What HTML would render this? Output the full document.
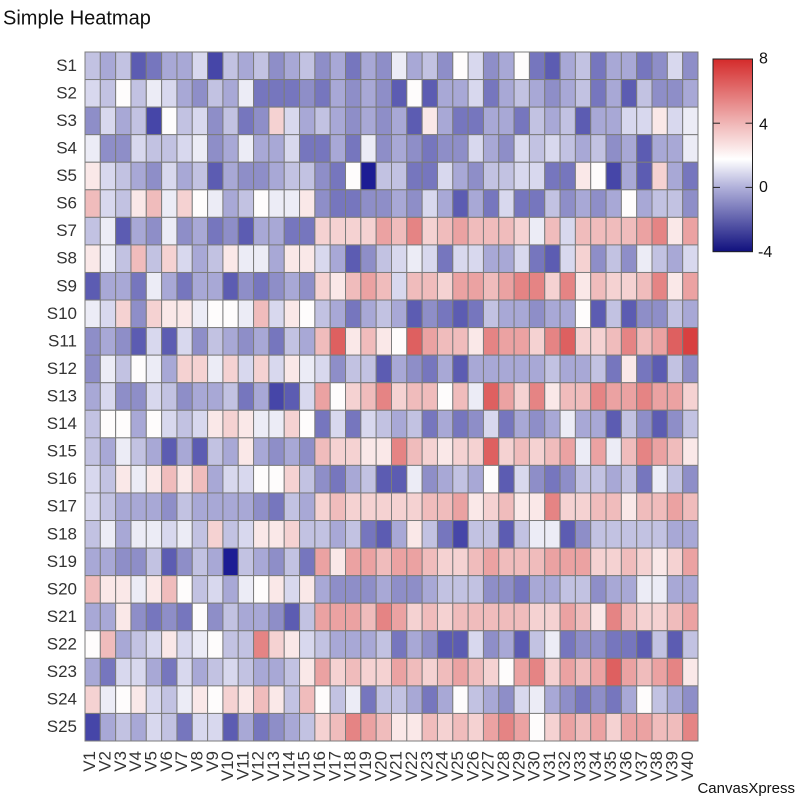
<!DOCTYPE html>
<html>
<head>
<meta charset="utf-8">
<style>
html,body{margin:0;padding:0;background:#fff;}
svg{display:block;}
text{font-family:"Liberation Sans",Arial,sans-serif;}
</style>
</head>
<body>
<svg id="chart" width="800" height="800" viewBox="0 0 800 800" xmlns="http://www.w3.org/2000/svg">
<defs>
<linearGradient id="lg" x1="0" y1="0" x2="0" y2="1">
<stop offset="0" stop-color="#d42b2b"/>
<stop offset="0.333" stop-color="#f0b6b6"/>
<stop offset="0.52" stop-color="#ffffff"/>
<stop offset="0.667" stop-color="#b0b0da"/>
<stop offset="1" stop-color="#10107e"/>
</linearGradient>
</defs>
<rect x="0" y="0" width="800" height="800" fill="#fff"/>
<text x="3" y="24.5" font-size="20" fill="#111">Simple Heatmap</text>
<g id="cells"></g>
<rect x="713" y="59" width="39.5" height="192.7" fill="url(#lg)" stroke="#222" stroke-width="1"/>
<g stroke="#222" stroke-width="1">
<line x1="713" y1="123.2" x2="720" y2="123.2"/>
<line x1="745.5" y1="123.2" x2="752.5" y2="123.2"/>
<line x1="713" y1="187.4" x2="720" y2="187.4"/>
<line x1="745.5" y1="187.4" x2="752.5" y2="187.4"/>
</g>
<g font-size="16" fill="#111">
<text x="759" y="63.5">8</text>
<text x="759" y="129.3">4</text>
<text x="759" y="192">0</text>
<text x="758" y="257">-4</text>
</g>
<g font-size="17" fill="#333" text-anchor="end">
<text x="77" y="70.8">S1</text>
<text x="77" y="98.3">S2</text>
<text x="77" y="125.9">S3</text>
<text x="77" y="153.5">S4</text>
<text x="77" y="181">S5</text>
<text x="77" y="208.6">S6</text>
<text x="77" y="236.1">S7</text>
<text x="77" y="263.7">S8</text>
<text x="77" y="291.3">S9</text>
<text x="77" y="318.8">S10</text>
<text x="77" y="346.4">S11</text>
<text x="77" y="373.9">S12</text>
<text x="77" y="401.5">S13</text>
<text x="77" y="429.1">S14</text>
<text x="77" y="456.6">S15</text>
<text x="77" y="484.2">S16</text>
<text x="77" y="511.7">S17</text>
<text x="77" y="539.3">S18</text>
<text x="77" y="566.9">S19</text>
<text x="77" y="594.4">S20</text>
<text x="77" y="622">S21</text>
<text x="77" y="649.5">S22</text>
<text x="77" y="677.1">S23</text>
<text x="77" y="704.7">S24</text>
<text x="77" y="732.2">S25</text>
</g>
<g font-size="17" fill="#333" text-anchor="end">
<text transform="translate(95.16,751) rotate(-90)">V1</text>
<text transform="translate(110.49,751) rotate(-90)">V2</text>
<text transform="translate(125.81,751) rotate(-90)">V3</text>
<text transform="translate(141.14,751) rotate(-90)">V4</text>
<text transform="translate(156.46,751) rotate(-90)">V5</text>
<text transform="translate(171.79,751) rotate(-90)">V6</text>
<text transform="translate(187.12,751) rotate(-90)">V7</text>
<text transform="translate(202.44,751) rotate(-90)">V8</text>
<text transform="translate(217.77,751) rotate(-90)">V9</text>
<text transform="translate(233.09,751) rotate(-90)">V10</text>
<text transform="translate(248.42,751) rotate(-90)">V11</text>
<text transform="translate(263.74,751) rotate(-90)">V12</text>
<text transform="translate(279.07,751) rotate(-90)">V13</text>
<text transform="translate(294.39,751) rotate(-90)">V14</text>
<text transform="translate(309.72,751) rotate(-90)">V15</text>
<text transform="translate(325.04,751) rotate(-90)">V16</text>
<text transform="translate(340.37,751) rotate(-90)">V17</text>
<text transform="translate(355.69,751) rotate(-90)">V18</text>
<text transform="translate(371.02,751) rotate(-90)">V19</text>
<text transform="translate(386.34,751) rotate(-90)">V20</text>
<text transform="translate(401.67,751) rotate(-90)">V21</text>
<text transform="translate(416.99,751) rotate(-90)">V22</text>
<text transform="translate(432.32,751) rotate(-90)">V23</text>
<text transform="translate(447.64,751) rotate(-90)">V24</text>
<text transform="translate(462.97,751) rotate(-90)">V25</text>
<text transform="translate(478.29,751) rotate(-90)">V26</text>
<text transform="translate(493.62,751) rotate(-90)">V27</text>
<text transform="translate(508.94,751) rotate(-90)">V28</text>
<text transform="translate(524.27,751) rotate(-90)">V29</text>
<text transform="translate(539.59,751) rotate(-90)">V30</text>
<text transform="translate(554.92,751) rotate(-90)">V31</text>
<text transform="translate(570.24,751) rotate(-90)">V32</text>
<text transform="translate(585.57,751) rotate(-90)">V33</text>
<text transform="translate(600.89,751) rotate(-90)">V34</text>
<text transform="translate(616.22,751) rotate(-90)">V35</text>
<text transform="translate(631.54,751) rotate(-90)">V36</text>
<text transform="translate(646.87,751) rotate(-90)">V37</text>
<text transform="translate(662.19,751) rotate(-90)">V38</text>
<text transform="translate(677.52,751) rotate(-90)">V39</text>
<text transform="translate(692.84,751) rotate(-90)">V40</text>
</g>
<text x="795" y="793" font-size="15" fill="#111" text-anchor="end">CanvasXpress</text>
</svg>
<script>
(function(){
var rows=[
"6562355716564564535485649745932563553474",
"7696875465833343545429255735654563526445",
"475619674634b756545452a53355365625577a78",
"8447667845855733538454344754767656452558",
"a7654756254456643906633754667733a9152b53",
"c76ac8b9856988a4334454752537336454595664",
"682548453425533bbbbdcebcdcccb8c7ccccdead",
"a86c6b756a885aa75246787377557327b4648657",
"255385355243454bacdc7ccbddcdeebeacbbcead",
"87b4baa8998c7a96535652432365545592624465",
"454272746545365cfaca9fdccaeddbefbbcecdfg",
"486985bb8b7b7a874662543525555565563a3264",
"574476455635127d9bcebcc9c8fdbeacceddeddb",
"69959767aba88b93737656353473545855264246",
"6586525265a5454cbbaaecbabbfbcbcd8d8cedca",
"76a8acac57799b64356228456592743466563864",
"765554655554365bcbbbbbccdabcaaebbccaccdc",
"68588786b67aab6656325a631662688246666655",
"554462465065463daddcddcbbcdcccdddbbcbabd",
"caa8ac967589a7a5444544566644355664558855",
"55a434394655426dddcedbcbcccccbbdcaecbbcd",
"9c567a78966eba76555635422745268344332626",
"53775375676556adbcbbdcbcdcb9debdcdfdcdea",
"b89a768a9baca6c9683665359654785434359654",
"156576377253456bcedcaacbcbded9bdcdbddcce"
];
var col={'0':'#1c1c94','1':'#4646a8','2':'#5c5cb2','3':'#7676be','4':'#8e8ec8','5':'#a8a8d6','6':'#c2c2e2','7':'#d8d8ee','8':'#ececf6','9':'#fefcfc','a':'#fae8e8','b':'#f5d2d2','c':'#f0bcbc','d':'#eba2a2','e':'#e58484','f':'#de6060','g':'#d84040'};
var x0=85,y0=52,cw=613/40,ch=689/25;
var ns='http://www.w3.org/2000/svg';
var g=document.getElementById('cells');
for(var r=0;r<rows.length;r++){
  for(var c=0;c<40;c++){
    var el=document.createElementNS(ns,'rect');
    el.setAttribute('x',(x0+c*cw).toFixed(2));
    el.setAttribute('y',(y0+r*ch).toFixed(2));
    el.setAttribute('width',cw.toFixed(2));
    el.setAttribute('height',ch.toFixed(2));
    el.setAttribute('fill',col[rows[r].charAt(c)]||'#ffffff');
    el.setAttribute('stroke','#7c7c7c');
    el.setAttribute('stroke-width','1');
    g.appendChild(el);
  }
}
})();
</script>
</body>
</html>
